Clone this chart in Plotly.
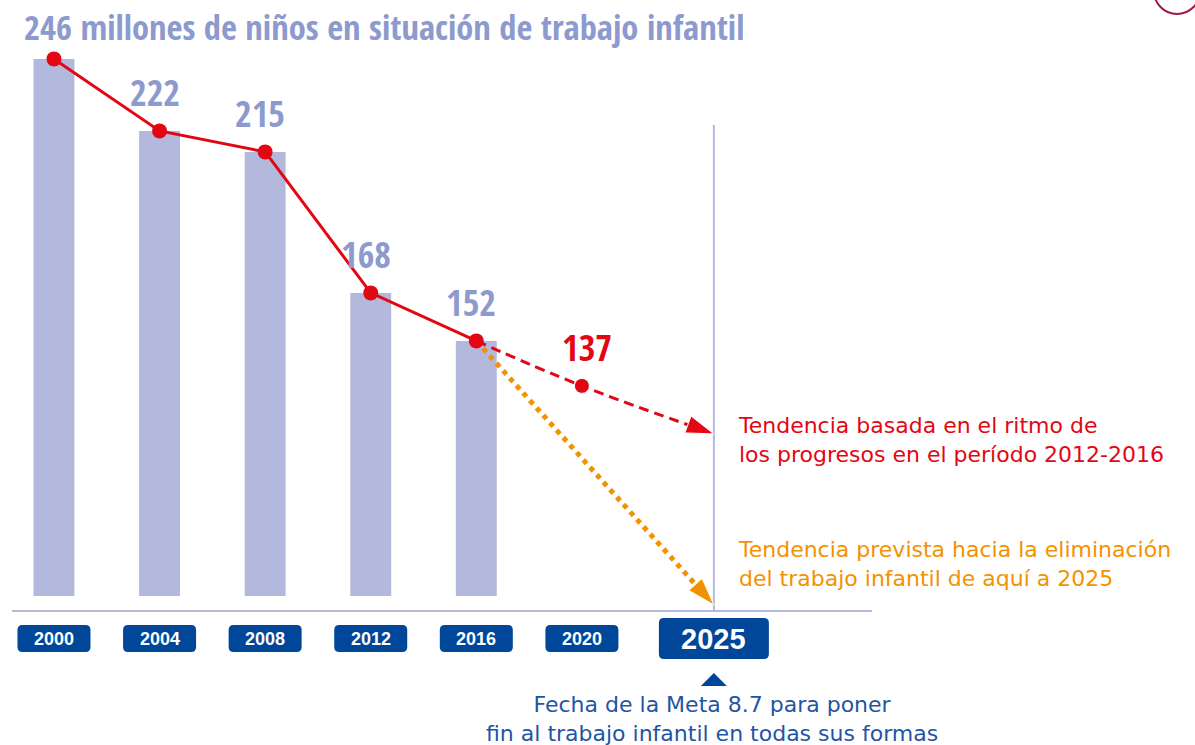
import plotly.graph_objects as go

# ---------------- data ----------------
years = [2000, 2004, 2008, 2012, 2016]
children_millions = [246, 222, 215, 168, 152]
label_years = [2004, 2008, 2012, 2016]
label_values = [222, 215, 168, 152]

trend_years = [2016, 2020, 2025]          # pace 2012-2016
trend_values = [152, 137, 121]
target_years = [2016, 2025]               # towards elimination
target_values = [152, 64]

axis_years = [2000, 2004, 2008, 2012, 2016, 2020, 2025]
axis_labels = ["2000", "2004", "2008", "2012", "2016", "2020", "2025"]

title_text = "246 millones de niños en situación de trabajo infantil"
red_note = "Tendencia basada en el ritmo de<br>los progresos en el período 2012-2016"
orange_note = "Tendencia prevista hacia la eliminación<br>del trabajo infantil de aquí a 2025"
goal_note = "Fecha de la Meta 8.7 para poner<br>fin al trabajo infantil en todas sus formas"

# ---------------- style ----------------
W, H = 1195, 745
L, R, T, B = 12, 323, 40, 135
BAR = "#b3b9dd"
LAV = "#8d9ace"
RED = "#e30613"
ORANGE = "#f39200"
NAVY = "#00479a"
BLUE_TXT = "#1f55a3"
NARROW = ("Noto Sans ExtraCondensed, Noto Sans Condensed, Open Sans Condensed, "
          "Liberation Sans Narrow, DejaVu Sans Condensed, sans-serif")
BODY = "DejaVu Sans, Noto Sans, sans-serif"
BAR_BASE = 67

def xp(px):
    return (px - L) / (W - L - R)

def yp(py):
    return (H - B - py) / (H - T - B)

fig = go.Figure()

fig.add_trace(go.Bar(x=years, y=[v - BAR_BASE for v in children_millions], base=BAR_BASE,
                     width=1.55, marker=dict(color=BAR, line=dict(width=0)),
                     hoverinfo="skip"))

fig.add_trace(go.Scatter(x=target_years, y=target_values, mode="lines+markers",
                         line=dict(color=ORANGE, width=5, dash="dot"),
                         marker=dict(symbol=["circle", "arrow"], size=[0, 29], opacity=1,
                                     angleref="previous", color=ORANGE),
                         cliponaxis=False, hoverinfo="skip"))

fig.add_trace(go.Scatter(x=trend_years, y=trend_values, mode="lines+markers",
                         line=dict(color=RED, width=3, dash="10px,6px", shape="spline"),
                         marker=dict(symbol=["circle", "circle", "arrow"], size=[0, 15, 29],
                                     opacity=1, angleref="previous", color=RED),
                         cliponaxis=False, hoverinfo="skip"))

fig.add_trace(go.Scatter(x=years, y=children_millions, mode="lines+markers",
                         line=dict(color=RED, width=3),
                         marker=dict(size=15, color=RED),
                         cliponaxis=False, hoverinfo="skip"))

annotations = []
for yr, v in zip(label_years, label_values):
    annotations.append(dict(x=yr, y=v, xref="x", yref="y", text=str(v), showarrow=False,
                            yshift=38, xshift=-5,
                            font=dict(family=NARROW, size=36, color=LAV, weight="bold")))
annotations.append(dict(x=trend_years[1], y=trend_values[1], xref="x", yref="y",
                        text=str(trend_values[1]), showarrow=False, yshift=38, xshift=5,
                        font=dict(family=NARROW, size=36, color=RED, weight="bold")))

annotations.append(dict(x=xp(22), y=yp(27), xref="paper", yref="paper", text=title_text,
                        showarrow=False, xanchor="left", yanchor="middle",
                        font=dict(family=NARROW, size=34.5, color=LAV, weight="bold")))

annotations.append(dict(x=xp(736), y=yp(440), xref="paper", yref="paper", text=red_note,
                        showarrow=False, xanchor="left", yanchor="middle", align="left",
                        font=dict(family=BODY, size=22, color=RED)))
annotations.append(dict(x=xp(736), y=yp(564), xref="paper", yref="paper", text=orange_note,
                        showarrow=False, xanchor="left", yanchor="middle", align="left",
                        font=dict(family=BODY, size=22, color=ORANGE)))
annotations.append(dict(x=xp(712), y=yp(719), xref="paper", yref="paper", text=goal_note,
                        showarrow=False, xanchor="center", yanchor="middle", align="center",
                        font=dict(family=BODY, size=22, color=BLUE_TXT)))

shapes = []
def rounded(w, h, r):
    return (f"M{-w + r},{-h} L{w - r},{-h} Q{w},{-h} {w},{-h + r} L{w},{h - r} Q{w},{h} {w - r},{h} "
            f"L{-w + r},{h} Q{-w},{h} {-w},{h - r} L{-w},{-h + r} Q{-w},{-h} {-w + r},{-h} Z")

for yr, lab in zip(axis_years, axis_labels):
    big = lab == "2025"
    hw, hh = (55, 20.5) if big else (36.5, 13.5)
    shapes.append(dict(type="path", xref="x", yref="paper", xsizemode="pixel", ysizemode="pixel",
                       xanchor=yr, yanchor=yp(638.5), path=rounded(hw, hh, 5),
                       fillcolor=NAVY, line=dict(width=0), layer="above"))
    annotations.append(dict(x=yr, y=yp(638.5), xref="x", yref="paper", text=lab, showarrow=False,
                            xanchor="center", yanchor="middle",
                            font=dict(family="Liberation Sans, Arial, sans-serif",
                                      size=29 if big else 18, color="white", weight="bold")))

# pointer under 2025
shapes.append(dict(type="path", xref="x", yref="paper", xsizemode="pixel", ysizemode="pixel",
                   xanchor=2025, yanchor=yp(679.5), path="M-13,-6.5 L13,-6.5 L0,6.5 Z",
                   fillcolor=NAVY, line=dict(width=0)))
# 2025 vertical guide
shapes.append(dict(type="line", xref="x", yref="paper", x0=2025, x1=2025, y0=0, y1=yp(125),
                   line=dict(color=BAR, width=2), layer="below"))
# decorative arc top-right
shapes.append(dict(type="circle", xref="paper", yref="paper",
                   x0=xp(1154), x1=xp(1200), y0=yp(14), y1=yp(-32),
                   line=dict(color="#a3173f", width=2)))

fig.update_layout(
    width=W, height=H, margin=dict(l=L, r=R, t=T, b=B),
    paper_bgcolor="white", plot_bgcolor="white", showlegend=False,
    xaxis=dict(range=[1998.41, 2030.99], showgrid=False, zeroline=False, showticklabels=False,
               ticks="", showline=True, linecolor=BAR, linewidth=2),
    yaxis=dict(range=[62.3, 252.3], showgrid=False, zeroline=False, showticklabels=False,
               ticks="", showline=False),
    annotations=annotations, shapes=shapes,
)

fig.write_html("out.html", config={"displayModeBar": False},
               post_script="document.body.style.margin='0px';")
